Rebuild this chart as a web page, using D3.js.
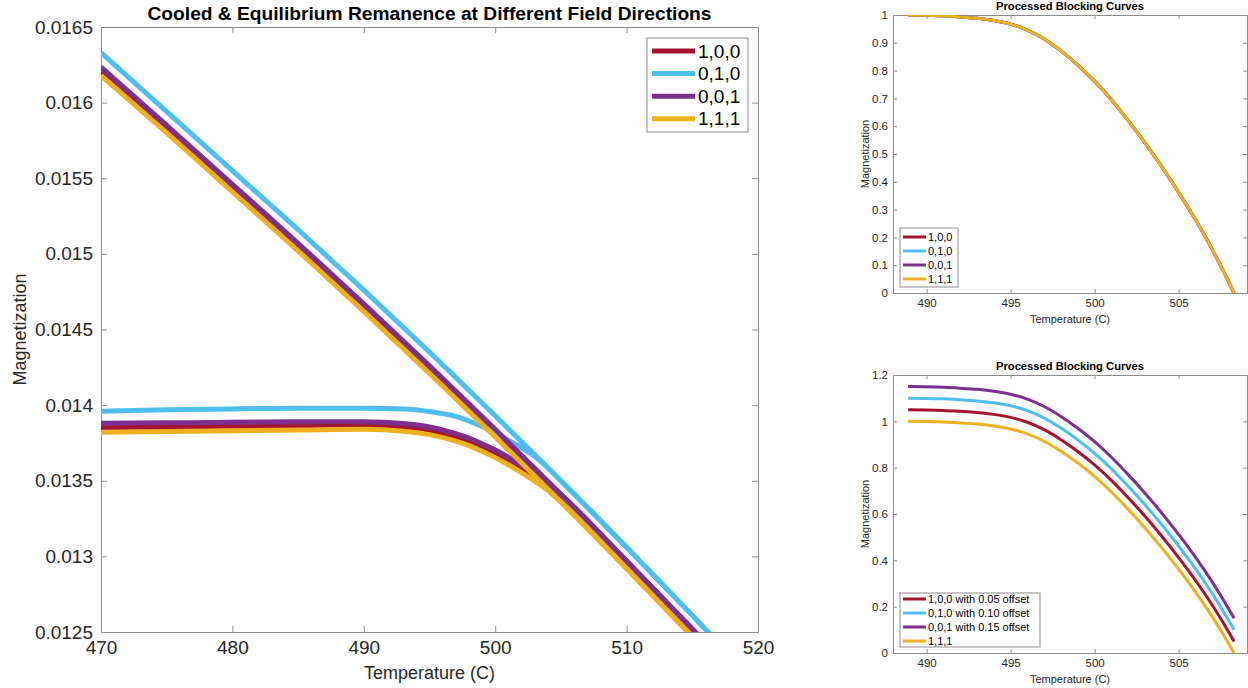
<!DOCTYPE html>
<html><head><meta charset="utf-8">
<script src="https://cdn.jsdelivr.net/npm/d3@7"></script>
<style>
html,body{margin:0;padding:0;background:#fff;}
svg{display:block;font-family:"Liberation Sans",Arial,Helvetica,sans-serif;}
</style></head>
<body>
<svg id="chart" width="1248" height="688"></svg>
<script>
// ---------- DATA ----------
const directions = ["1,0,0", "0,1,0", "0,0,1", "1,1,1"];
const colors = ["#A2142F", "#4DBEEE", "#7E2F8E", "#EDB120"];

// Main chart: equilibrium remanence (temperature grid)
const eqT = [470, 475, 480, 485, 490, 495, 500, 505, 510, 515, 520];
const eqRed    = [0.01620, 0.01582, 0.01543, 0.01504, 0.01464, 0.01423, 0.01381, 0.01338, 0.01294, 0.01249, 0.01203];
const eqBlue   = [0.01633, 0.01594, 0.01555, 0.01516, 0.01476, 0.01435, 0.01393, 0.01350, 0.01306, 0.01261, 0.01215];
const eqPurple = [0.016235, 0.01585, 0.01546, 0.01507, 0.01467, 0.01426, 0.01384, 0.01341, 0.01297, 0.01252, 0.01206];
const eqOrange = [0.01618, 0.01580, 0.01541, 0.01502, 0.01462, 0.01421, 0.01379, 0.01336, 0.01292, 0.01247, 0.01201];

// Main chart: cooled remanence
const coolT = [470, 475, 480, 485, 490, 493, 495, 497, 498, 499, 500, 501, 502, 503, 504, 505, 510, 515, 520];
const coolRed    = [0.013850, 0.013855, 0.013860, 0.013865, 0.013865, 0.013853, 0.013830, 0.013787, 0.013757, 0.013720, 0.013678, 0.013631, 0.013579, 0.013521, 0.013458, 0.01338, 0.01294, 0.01249, 0.01203];
const coolBlue   = [0.013960, 0.013970, 0.013975, 0.013980, 0.013980, 0.013975, 0.013958, 0.013925, 0.013895, 0.013858, 0.013815, 0.013768, 0.013718, 0.013662, 0.013586, 0.01350, 0.01306, 0.01261, 0.01215];
const coolPurple = [0.013880, 0.013883, 0.013886, 0.013890, 0.013890, 0.013878, 0.013855, 0.013812, 0.013782, 0.013745, 0.013703, 0.013656, 0.013604, 0.013548, 0.013486, 0.01341, 0.01297, 0.01252, 0.01206];
const coolOrange = [0.013820, 0.013825, 0.013830, 0.013835, 0.013840, 0.013828, 0.013805, 0.013762, 0.013732, 0.013695, 0.013653, 0.013606, 0.013554, 0.013498, 0.013437, 0.01336, 0.01292, 0.01247, 0.01201];

// Main chart axes ticks
const mainXTicks = [470, 480, 490, 500, 510, 520];
const mainYTicks = [0.0125, 0.013, 0.0135, 0.014, 0.0145, 0.015, 0.0155, 0.016, 0.0165];
const mainYTickLabels = ["0.0125", "0.013", "0.0135", "0.014", "0.0145", "0.015", "0.0155", "0.016", "0.0165"];

// Processed blocking curves (same curve for all four directions)
const blockT = [488.9, 490, 491, 492, 493, 494, 495, 496, 497, 498, 499, 500, 501, 502, 503, 504, 505, 506, 507, 508, 508.3];
const blockRed    = [1.0, 0.999, 0.997, 0.993, 0.988, 0.980, 0.967, 0.946, 0.914, 0.871, 0.820, 0.762, 0.695, 0.620, 0.540, 0.454, 0.362, 0.264, 0.157, 0.038, 0.0];
const blockBlue   = [1.0, 0.999, 0.997, 0.993, 0.988, 0.980, 0.967, 0.946, 0.914, 0.871, 0.820, 0.762, 0.695, 0.620, 0.540, 0.454, 0.362, 0.264, 0.157, 0.038, 0.0];
const blockPurple = [1.0, 0.999, 0.997, 0.993, 0.988, 0.980, 0.967, 0.946, 0.914, 0.871, 0.820, 0.762, 0.695, 0.620, 0.540, 0.454, 0.362, 0.264, 0.157, 0.038, 0.0];
const blockOrange = [1.0, 0.999, 0.997, 0.993, 0.988, 0.980, 0.967, 0.946, 0.914, 0.871, 0.820, 0.762, 0.695, 0.620, 0.540, 0.454, 0.362, 0.264, 0.157, 0.038, 0.0];
const blockOffsets = [0.05, 0.10, 0.15, 0.0];
const offsetLabels = ["1,0,0 with 0.05 offset", "0,1,0 with 0.10 offset", "0,0,1 with 0.15 offset", "1,1,1"];

const smallXTicks = [490, 495, 500, 505];
const topYTicks = [0, 0.1, 0.2, 0.3, 0.4, 0.5, 0.6, 0.7, 0.8, 0.9, 1];
const topYTickLabels = ["0", "0.1", "0.2", "0.3", "0.4", "0.5", "0.6", "0.7", "0.8", "0.9", "1"];
const botYTicks = [0, 0.2, 0.4, 0.6, 0.8, 1, 1.2];
const botYTickLabels = ["0", "0.2", "0.4", "0.6", "0.8", "1", "1.2"];

// ---------- DRAWING ----------
const svg = d3.select("#chart");
const AXIS_COL = "#8c8c8c";
const TEXT_COL = "#262626";

function makeAxes(cfg) {
  const g = svg.append("g");
  const x = d3.scaleLinear().domain(cfg.xDomain).range([cfg.left, cfg.right]);
  const y = d3.scaleLinear().domain(cfg.yDomain).range([cfg.bottom, cfg.top]);
  const clipId = "clip" + Math.round(cfg.left) + "_" + Math.round(cfg.top);
  svg.append("clipPath").attr("id", clipId).append("rect")
    .attr("x", cfg.left).attr("y", cfg.top)
    .attr("width", cfg.right - cfg.left).attr("height", cfg.bottom - cfg.top);

  const tl = cfg.tickLen;
  const axB = d3.axisBottom(x).tickValues(cfg.xTicks).tickSize(-tl).tickFormat(d => d);
  const axT = d3.axisTop(x).tickValues(cfg.xTicks).tickSize(-tl).tickFormat("");
  const axL = d3.axisLeft(y).tickValues(cfg.yTicks).tickSize(-tl).tickFormat((d, i) => cfg.yTickLabels[i]);
  const axR = d3.axisRight(y).tickValues(cfg.yTicks).tickSize(-tl).tickFormat("");
  const gb = g.append("g").attr("transform", `translate(0,${cfg.bottom})`).call(axB);
  const gt = g.append("g").attr("transform", `translate(0,${cfg.top})`).call(axT);
  const gl = g.append("g").attr("transform", `translate(${cfg.left},0)`).call(axL);
  const gr = g.append("g").attr("transform", `translate(${cfg.right},0)`).call(axR);
  [gb, gt, gl, gr].forEach(a => {
    a.select(".domain").attr("stroke", AXIS_COL).attr("stroke-width", 1);
    a.selectAll(".tick line").attr("stroke", AXIS_COL);
    a.selectAll(".tick text").attr("fill", TEXT_COL).attr("font-size", cfg.tickFont)
      .attr("font-family", "Liberation Sans, Arial, sans-serif");
  });
  gb.selectAll(".tick text").attr("dy", null).attr("y", cfg.xLabelOffset).attr("dominant-baseline", "hanging");
  gl.selectAll(".tick text").attr("x", -cfg.yLabelOffset);

  svg.append("text").attr("x", (cfg.left + cfg.right) / 2).attr("y", cfg.titleY)
    .attr("text-anchor", "middle").attr("font-weight", "bold").attr("font-size", cfg.titleFont)
    .attr("fill", "#000").text(cfg.title);
  svg.append("text").attr("x", (cfg.left + cfg.right) / 2).attr("y", cfg.xTitleY)
    .attr("text-anchor", "middle").attr("font-size", cfg.labelFont).attr("fill", TEXT_COL)
    .text(cfg.xTitle);
  svg.append("text").attr("transform", `translate(${cfg.yTitleX},${(cfg.top + cfg.bottom) / 2}) rotate(-90)`)
    .attr("text-anchor", "middle").attr("font-size", cfg.labelFont).attr("fill", TEXT_COL)
    .text(cfg.yTitle);

  const plot = svg.append("g").attr("clip-path", `url(#${clipId})`);
  return { x, y, plot };
}

function drawLine(ax, xs, ys, color, width) {
  const pts = xs.map((t, i) => [t, ys[i]]);
  const line = d3.line().x(d => ax.x(d[0])).y(d => ax.y(d[1])).curve(d3.curveMonotoneX);
  ax.plot.append("path").attr("d", line(pts)).attr("fill", "none")
    .attr("stroke", color).attr("stroke-width", width)
    .attr("stroke-linejoin", "round").attr("stroke-linecap", "butt");
}

function drawLegend(box, labels, fontSize, lineW) {
  const g = svg.append("g");
  g.append("rect").attr("x", box.x).attr("y", box.y).attr("width", box.w).attr("height", box.h)
    .attr("fill", "#fff").attr("stroke", AXIS_COL).attr("stroke-width", 1);
  labels.forEach((lab, i) => {
    const yy = box.y + box.pad + i * box.step;
    g.append("line").attr("x1", box.x + box.lx1).attr("x2", box.x + box.lx2)
      .attr("y1", yy).attr("y2", yy).attr("stroke", colors[i]).attr("stroke-width", lineW);
    g.append("text").attr("x", box.x + box.tx).attr("y", yy).attr("dominant-baseline", "central")
      .attr("font-size", fontSize).attr("fill", "#000").text(lab);
  });
}

// ---- Main chart ----
const mainChart = makeAxes({
  left: 101, right: 758, top: 27, bottom: 632,
  xDomain: [470, 520], yDomain: [0.0125, 0.0165],
  xTicks: mainXTicks, yTicks: mainYTicks, yTickLabels: mainYTickLabels,
  tickLen: 6, tickFont: 19, xLabelOffset: 8, yLabelOffset: 8,
  title: "Cooled & Equilibrium Remanence at Different Field Directions",
  titleY: 20, titleFont: 19.2, xTitle: "Temperature (C)", xTitleY: 679,
  yTitle: "Magnetization", yTitleX: 26, labelFont: 18
});
const eqSeries = [eqRed, eqBlue, eqPurple, eqOrange];
const coolSeries = [coolRed, coolBlue, coolPurple, coolOrange];
for (let i = 0; i < 4; i++) {
  drawLine(mainChart, eqT, eqSeries[i], colors[i], 5);
  drawLine(mainChart, coolT, coolSeries[i], colors[i], 5);
}
drawLegend({ x: 647, y: 38, w: 101, h: 94, pad: 13, step: 22.6, lx1: 5, lx2: 48, tx: 51 },
  directions, 19, 5);

// ---- Top-right chart ----
const topChart = makeAxes({
  left: 893, right: 1247, top: 15, bottom: 293,
  xDomain: [488, 509.07], yDomain: [0, 1],
  xTicks: smallXTicks, yTicks: topYTicks, yTickLabels: topYTickLabels,
  tickLen: 4, tickFont: 11.5, xLabelOffset: 6, yLabelOffset: 5,
  title: "Processed Blocking Curves", titleY: 10, titleFont: 11.2,
  xTitle: "Temperature (C)", xTitleY: 323, yTitle: "Magnetization", yTitleX: 869, labelFont: 11
});
const blockSeries = [blockRed, blockBlue, blockPurple, blockOrange];
for (let i = 0; i < 4; i++) drawLine(topChart, blockT, blockSeries[i], colors[i], 3);
drawLegend({ x: 900, y: 228, w: 58, h: 59, pad: 9, step: 14, lx1: 3, lx2: 26, tx: 28 },
  directions, 11, 3);

// ---- Bottom-right chart ----
const botChart = makeAxes({
  left: 893, right: 1247, top: 375, bottom: 653,
  xDomain: [488, 509.07], yDomain: [0, 1.2],
  xTicks: smallXTicks, yTicks: botYTicks, yTickLabels: botYTickLabels,
  tickLen: 4, tickFont: 11.5, xLabelOffset: 6, yLabelOffset: 5,
  title: "Processed Blocking Curves", titleY: 370, titleFont: 11.2,
  xTitle: "Temperature (C)", xTitleY: 683, yTitle: "Magnetization", yTitleX: 869, labelFont: 11
});
for (let i = 0; i < 4; i++) {
  drawLine(botChart, blockT, blockSeries[i].map(v => v + blockOffsets[i]), colors[i], 3);
}
drawLegend({ x: 900, y: 593, w: 140, h: 54, pad: 6, step: 14, lx1: 3, lx2: 26, tx: 28 },
  offsetLabels, 11, 3);
</script>
</body></html>
